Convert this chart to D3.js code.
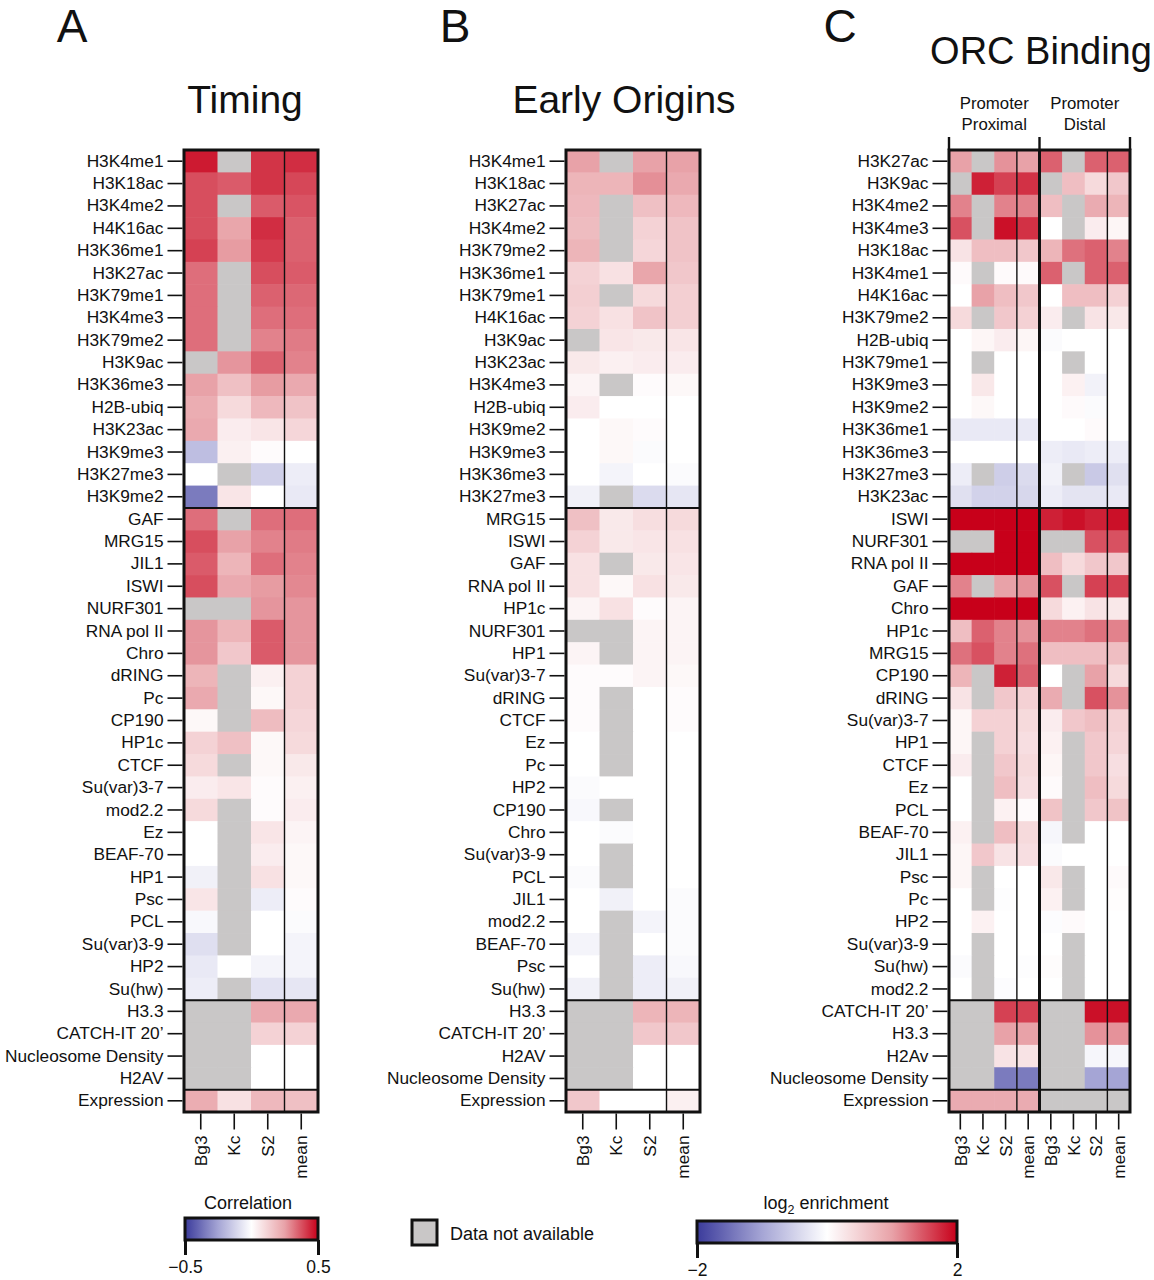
<!DOCTYPE html>
<html>
<head>
  <meta charset="utf-8">
  <title>Chromatin features vs timing, early origins and ORC binding</title>
  <script src="https://cdn.jsdelivr.net/npm/d3@7/dist/d3.min.js"></script>
  <style>
    body { margin: 0; background: #fff; }
    svg { font-family: "Liberation Sans", Arial, Helvetica, sans-serif; }
    .tick line { stroke: #111; stroke-width: 1.6; }
    .tick text { fill: #111; font-size: 17.3px; }
    .frame { fill: none; stroke: #111; stroke-width: 3; }
    .sep { stroke: #111; stroke-width: 2; }
    .thin { stroke: #111; stroke-width: 1.4; }
  </style>
</head>
<body>
  <svg id="chart"></svg>
  <script>
    var NA = null;
    var cellTypes = ['Bg3', 'Kc', 'S2', 'mean'];

    // panel A: correlation with replication timing
    var timingRows = ['H3K4me1', 'H3K18ac', 'H3K4me2', 'H4K16ac', 'H3K36me1', 'H3K27ac', 'H3K79me1', 'H3K4me3',
      'H3K79me2', 'H3K9ac', 'H3K36me3', 'H2B-ubiq', 'H3K23ac', 'H3K9me3', 'H3K27me3', 'H3K9me2',
      'GAF', 'MRG15', 'JIL1', 'ISWI', 'NURF301', 'RNA pol II', 'Chro', 'dRING', 'Pc', 'CP190', 'HP1c',
      'CTCF', 'Su(var)3-7', 'mod2.2', 'Ez', 'BEAF-70', 'HP1', 'Psc', 'PCL', 'Su(var)3-9', 'HP2', 'Su(hw)',
      'H3.3', 'CATCH-IT 20\u2019', 'Nucleosome Density', 'H2AV', 'Expression'];
    var timingValues = [
      [0.46, NA, 0.42, 0.43], [0.38, 0.36, 0.42, 0.39], [0.38, NA, 0.36, 0.37], [0.38, 0.24, 0.43, 0.35],
      [0.40, 0.26, 0.41, 0.35], [0.33, NA, 0.38, 0.36], [0.33, NA, 0.35, 0.34], [0.33, NA, 0.33, 0.33],
      [0.33, NA, 0.30, 0.31], [NA, 0.27, 0.35, 0.30], [0.25, 0.17, 0.26, 0.23], [0.22, 0.10, 0.19, 0.16],
      [0.23, 0.05, 0.07, 0.11], [-0.18, 0.04, 0.01, 0.00], [0.00, NA, -0.13, -0.05], [-0.35, 0.07, 0.00, -0.06],
      [0.33, NA, 0.33, 0.33], [0.38, 0.25, 0.30, 0.31], [0.36, 0.20, 0.33, 0.30], [0.38, 0.23, 0.26, 0.29],
      [NA, NA, 0.27, 0.27], [0.27, 0.20, 0.36, 0.27], [0.27, 0.15, 0.36, 0.27], [0.20, NA, 0.04, 0.12],
      [0.23, NA, 0.02, 0.12], [0.02, NA, 0.18, 0.11], [0.12, 0.17, 0.02, 0.10], [0.10, NA, 0.02, 0.06],
      [0.05, 0.07, 0.01, 0.04], [0.10, NA, 0.01, 0.05], [0.00, NA, 0.07, 0.03], [0.00, NA, 0.05, 0.02],
      [-0.04, NA, 0.08, 0.02], [0.07, NA, -0.05, 0.01], [-0.02, NA, 0.00, -0.01], [-0.09, NA, 0.00, -0.03],
      [-0.06, 0.00, -0.03, -0.03], [-0.05, NA, -0.08, -0.07],
      [NA, NA, 0.23, 0.23], [NA, NA, 0.12, 0.12], [NA, NA, 0.00, 0.00], [NA, NA, 0.00, 0.00],
      [0.22, 0.08, 0.19, 0.17]
    ];

    // panel B: correlation with early origins
    var originRows = ['H3K4me1', 'H3K18ac', 'H3K27ac', 'H3K4me2', 'H3K79me2', 'H3K36me1', 'H3K79me1', 'H4K16ac',
      'H3K9ac', 'H3K23ac', 'H3K4me3', 'H2B-ubiq', 'H3K9me2', 'H3K9me3', 'H3K36me3', 'H3K27me3',
      'MRG15', 'ISWI', 'GAF', 'RNA pol II', 'HP1c', 'NURF301', 'HP1', 'Su(var)3-7', 'dRING', 'CTCF', 'Ez',
      'Pc', 'HP2', 'CP190', 'Chro', 'Su(var)3-9', 'PCL', 'JIL1', 'mod2.2', 'BEAF-70', 'Psc', 'Su(hw)',
      'H3.3', 'CATCH-IT 20\u2019', 'H2AV', 'Nucleosome Density', 'Expression'];
    var originValues = [
      [0.25, NA, 0.25, 0.25], [0.20, 0.20, 0.28, 0.23], [0.19, NA, 0.17, 0.19], [0.18, NA, 0.12, 0.16],
      [0.20, NA, 0.11, 0.16], [0.12, 0.08, 0.24, 0.15], [0.13, NA, 0.10, 0.13], [0.12, 0.08, 0.16, 0.13],
      [NA, 0.07, 0.06, 0.07], [0.06, 0.04, 0.05, 0.05], [0.03, NA, 0.01, 0.02], [0.05, 0.00, 0.00, 0.00],
      [0.00, 0.02, 0.01, 0.00], [0.00, 0.02, -0.01, 0.00], [0.00, -0.03, 0.00, -0.01], [-0.04, NA, -0.10, -0.07],
      [0.17, 0.06, 0.09, 0.10], [0.12, 0.06, 0.07, 0.08], [0.08, NA, 0.06, 0.07], [0.08, 0.02, 0.08, 0.06],
      [0.03, 0.08, 0.01, 0.03], [NA, NA, 0.03, 0.03], [0.03, NA, 0.03, 0.03], [0.01, 0.01, 0.03, 0.02],
      [0.01, NA, 0.00, 0.01], [0.01, NA, 0.00, 0.01], [0.00, NA, 0.00, 0.00], [0.00, NA, 0.00, 0.00],
      [-0.01, 0.00, 0.00, 0.00], [-0.02, NA, 0.00, 0.00], [0.00, -0.01, 0.00, 0.00], [0.00, NA, 0.00, 0.00],
      [-0.01, NA, 0.00, 0.00], [0.00, -0.04, 0.00, -0.01], [0.00, NA, -0.03, -0.01], [-0.03, NA, 0.00, -0.01],
      [0.00, NA, -0.05, -0.02], [-0.04, NA, -0.05, -0.04],
      [NA, NA, 0.20, 0.20], [NA, NA, 0.15, 0.15], [NA, NA, 0.00, 0.00], [NA, NA, 0.00, 0.00],
      [0.15, 0.00, 0.00, 0.04]
    ];

    // panel C: log2 enrichment at ORC sites, proximal then distal columns
    var orcRows = ['H3K27ac', 'H3K9ac', 'H3K4me2', 'H3K4me3', 'H3K18ac', 'H3K4me1', 'H4K16ac', 'H3K79me2',
      'H2B-ubiq', 'H3K79me1', 'H3K9me3', 'H3K9me2', 'H3K36me1', 'H3K36me3', 'H3K27me3', 'H3K23ac',
      'ISWI', 'NURF301', 'RNA pol II', 'GAF', 'Chro', 'HP1c', 'MRG15', 'CP190', 'dRING', 'Su(var)3-7',
      'HP1', 'CTCF', 'Ez', 'PCL', 'BEAF-70', 'JIL1', 'Psc', 'Pc', 'HP2', 'Su(var)3-9', 'Su(hw)', 'mod2.2',
      'CATCH-IT 20\u2019', 'H3.3', 'H2Av', 'Nucleosome Density', 'Expression'];
    var orcProximal = [
      [1.0, NA, 1.1, 1.0], [NA, 1.8, 1.6, 1.7], [1.2, NA, 1.2, 1.2], [1.5, NA, 1.9, 1.7],
      [0.3, 0.7, 0.7, 0.6], [0.05, NA, 0.05, 0.05], [0.0, 1.0, 0.7, 0.6], [0.4, NA, 0.6, 0.5],
      [0.0, 0.1, 0.2, 0.1], [0.0, NA, 0.0, 0.0], [0.0, 0.25, 0.0, 0.0], [0.0, 0.08, 0.0, 0.0],
      [-0.25, -0.25, -0.25, -0.25], [0.0, 0.0, 0.0, 0.0], [-0.2, NA, -0.55, -0.4], [-0.35, -0.5, -0.5, -0.45],
      [2.0, 2.0, 2.0, 2.0], [NA, NA, 2.0, 2.0], [2.0, 2.0, 2.0, 2.0], [1.2, NA, 1.0, 1.1],
      [2.0, 2.0, 2.0, 2.0], [0.7, 1.4, 1.2, 1.1], [1.3, 1.5, 1.2, 1.3], [0.8, NA, 1.8, 1.4],
      [0.3, NA, 0.6, 0.5], [0.1, 0.5, 0.5, 0.4], [0.1, NA, 0.5, 0.35], [0.2, NA, 0.6, 0.4],
      [0.0, NA, 0.7, 0.35], [0.0, NA, 0.15, 0.05], [0.15, NA, 0.7, 0.4], [0.1, 0.6, 0.3, 0.35],
      [0.1, NA, 0.0, 0.0], [0.0, NA, -0.02, 0.0], [0.0, 0.15, 0.0, 0.0], [0.0, NA, 0.0, 0.0],
      [-0.05, NA, 0.0, -0.02], [0.0, NA, -0.03, 0.0],
      [NA, NA, 1.6, 1.6], [NA, NA, 1.0, 1.0], [NA, NA, 0.3, 0.3], [NA, NA, -1.4, -1.4],
      [0.9, 0.9, 0.9, 0.9]
    ];
    var orcDistal = [
      [1.4, NA, 1.4, 1.4], [NA, 0.7, 0.4, 0.6], [0.7, NA, 0.9, 0.8], [0.0, NA, 0.2, 0.1],
      [0.8, 1.3, 1.4, 1.2], [1.4, NA, 1.4, 1.4], [0.0, 0.7, 0.7, 0.5], [0.2, NA, 0.3, 0.25],
      [-0.05, 0.0, 0.0, 0.0], [0.0, NA, 0.0, 0.0], [0.0, 0.15, -0.15, 0.0], [0.0, 0.05, -0.05, 0.0],
      [0.0, 0.0, 0.05, 0.0], [-0.2, -0.25, -0.2, -0.2], [-0.15, NA, -0.6, -0.35], [-0.2, -0.3, -0.3, -0.25],
      [1.8, 1.9, 1.8, 1.9], [NA, NA, 1.5, 1.5], [0.7, 0.4, 0.6, 0.6], [1.5, NA, 1.6, 1.6],
      [0.4, 0.15, 0.3, 0.25], [1.2, 1.2, 1.3, 1.2], [0.7, 0.7, 0.7, 0.7], [0.0, NA, 1.0, 0.4],
      [0.9, NA, 1.5, 1.1], [0.2, 0.6, 0.7, 0.5], [0.15, NA, 0.6, 0.45], [0.1, NA, 0.6, 0.35],
      [0.05, NA, 0.7, 0.4], [0.65, NA, 0.6, 0.65], [-0.1, NA, 0.0, 0.0], [-0.05, 0.0, 0.0, 0.0],
      [0.25, NA, 0.0, 0.05], [0.15, NA, 0.0, 0.02], [-0.03, 0.05, 0.0, 0.0], [0.0, NA, 0.0, 0.0],
      [0.03, NA, 0.0, 0.0], [0.0, NA, 0.0, 0.0],
      [NA, NA, 1.9, 1.9], [NA, NA, 1.1, 1.1], [NA, NA, -0.1, -0.1], [NA, NA, -1.0, -1.0],
      [NA, NA, NA, NA]
    ];

    var corrTicks = [-0.5, 0.5];
    var log2Ticks = [-2, 2];
    var groupStarts = [16, 38, 42];

    var naGray = '#c9c7c7';
    var ramp = ['#3b3b9b', '#a5a5d5', '#ffffff', '#e8a2a8', '#c8001a'];
    var corrColor = d3.scaleLinear().domain([-0.5, -0.25, 0, 0.25, 0.5]).range(ramp).clamp(true);
    var log2Color = d3.scaleLinear().domain([-2, -1, 0, 1, 2]).range(ramp).clamp(true);

    var W = 1154, H = 1280, yTop = 150, yBot = 1112;
    var svg = d3.select('#chart').attr('width', W).attr('height', H);

    function heatmap(opt) {
      var cols = opt.columns;
      var x = d3.scaleBand().domain(cols).range([opt.x0, opt.x1]);
      var y = d3.scaleBand().domain(opt.rows).range([yTop, yBot]);
      var g = svg.append('g');

      var cells = [];
      opt.rows.forEach(function (r, i) {
        cols.forEach(function (c, j) {
          cells.push({ r: r, c: c, v: opt.values[i][j] });
        });
      });
      g.selectAll('rect.cell')
        .data(cells)
        .enter()
        .append('rect')
        .attr('class', 'cell')
        .attr('x', d => x(d.c))
        .attr('y', d => y(d.r))
        .attr('width', x.bandwidth() + 0.6)
        .attr('height', y.bandwidth() + 0.6)
        .attr('fill', d => d.v === null ? naGray : opt.color(d.v));

      groupStarts.forEach(function (k) {
        var yy = y(opt.rows[k]);
        g.append('line').attr('class', 'sep')
          .attr('x1', opt.x0).attr('x2', opt.x1).attr('y1', yy).attr('y2', yy);
      });

      cols.forEach(function (c) {
        if (c.split(':').pop() === 'mean') {
          g.append('line').attr('class', 'thin')
            .attr('x1', x(c)).attr('x2', x(c)).attr('y1', yTop).attr('y2', yBot);
        }
      });

      (opt.blocks || []).forEach(function (c) {
        g.append('line').attr('class', 'frame')
          .attr('x1', x(c)).attr('x2', x(c)).attr('y1', yTop).attr('y2', yBot);
      });

      g.append('rect').attr('class', 'frame')
        .attr('x', opt.x0).attr('y', yTop)
        .attr('width', opt.x1 - opt.x0).attr('height', yBot - yTop);

      var yAxis = d3.axisLeft(y).tickSize(15).tickPadding(4);
      svg.append('g')
        .attr('transform', 'translate(' + (opt.x0 - 1.5) + ',0)')
        .call(yAxis)
        .call(a => a.select('.domain').remove());

      var xAxis = d3.axisBottom(x).tickSize(16).tickFormat(d => d.split(':').pop());
      svg.append('g')
        .attr('transform', 'translate(0,' + (yBot + 1.5) + ')')
        .call(xAxis)
        .call(a => a.select('.domain').remove())
        .selectAll('text')
        .attr('transform', 'rotate(-90)')
        .attr('text-anchor', 'end')
        .attr('x', -22)
        .attr('y', 0)
        .attr('dy', '0.36em');
      return x;
    }

    heatmap({ rows: timingRows, values: timingValues, columns: cellTypes, x0: 184, x1: 318, color: corrColor });
    heatmap({ rows: originRows, values: originValues, columns: cellTypes, x0: 566, x1: 700, color: corrColor });

    var orcCols = cellTypes.map(c => 'P:' + c).concat(cellTypes.map(c => 'D:' + c));
    var orcValues = orcProximal.map((row, i) => row.concat(orcDistal[i]));
    var xo = heatmap({ rows: orcRows, values: orcValues, columns: orcCols, x0: 949, x1: 1130,
      color: log2Color, blocks: ['D:Bg3'] });

    // bracket above panel C
    var mid = xo('D:Bg3');
    [949, mid, 1130].forEach(function (bx) {
      svg.append('line').attr('class', 'sep').style('stroke-width', 2.4)
        .attr('x1', bx).attr('x2', bx).attr('y1', 137).attr('y2', yTop);
    });

    function label(txt, x, y, size, anchor) {
      return svg.append('text').attr('x', x).attr('y', y)
        .attr('font-size', size).attr('text-anchor', anchor || 'middle')
        .attr('fill', '#111').text(txt);
    }

    label('A', 72, 42, 46);
    label('B', 455, 42, 46);
    label('C', 840, 42, 46);
    label('Timing', 245, 113, 39);
    label('Early Origins', 624, 113, 39);
    label('ORC Binding', 1041, 64, 38);
    label('Promoter', (949 + mid) / 2, 109, 16.8);
    label('Proximal', (949 + mid) / 2, 130, 16.8);
    label('Promoter', (mid + 1130) / 2, 109, 16.8);
    label('Distal', (mid + 1130) / 2, 130, 16.8);

    // colour legends
    function colorBar(id, scale, ticks, x0, x1, y0, h) {
      var xs = d3.scaleLinear().domain(d3.extent(ticks)).range([x0, x1]);
      var grad = svg.append('defs').append('linearGradient').attr('id', id);
      d3.range(0, 1.0001, 0.05).forEach(function (t) {
        var v = xs.invert(x0 + t * (x1 - x0));
        grad.append('stop').attr('offset', (t * 100) + '%').attr('stop-color', scale(v));
      });
      svg.append('rect').attr('x', x0).attr('y', y0).attr('width', x1 - x0).attr('height', h)
        .attr('class', 'frame').style('fill', 'url(#' + id + ')');
      var ax = svg.append('g').attr('transform', 'translate(0,' + (y0 + h) + ')')
        .call(d3.axisBottom(xs).tickValues(ticks).tickSize(15).tickPadding(6)
          .tickFormat(d => String(d).replace('-', '\u2212')));
      ax.select('.domain').remove();
      ax.selectAll('line').style('stroke-width', 3);
      ax.selectAll('text').style('font-size', '17.5px');
      return xs;
    }

    colorBar('gCorr', corrColor, corrTicks, 185, 318, 1218, 22);
    label('Correlation', 248, 1209, 18);

    colorBar('gLog2', log2Color, log2Ticks, 697, 957, 1221, 22);
    var lt = label('log', 826, 1209, 18);
    lt.append('tspan').attr('font-size', 12.5).attr('dy', 5).text('2');
    lt.append('tspan').attr('dy', -5).text(' enrichment');

    svg.append('rect').attr('x', 412).attr('y', 1220).attr('width', 25).attr('height', 25)
      .attr('class', 'frame').style('fill', naGray);
    label('Data not available', 450, 1240, 18, 'start');
  </script>
</body>
</html>
